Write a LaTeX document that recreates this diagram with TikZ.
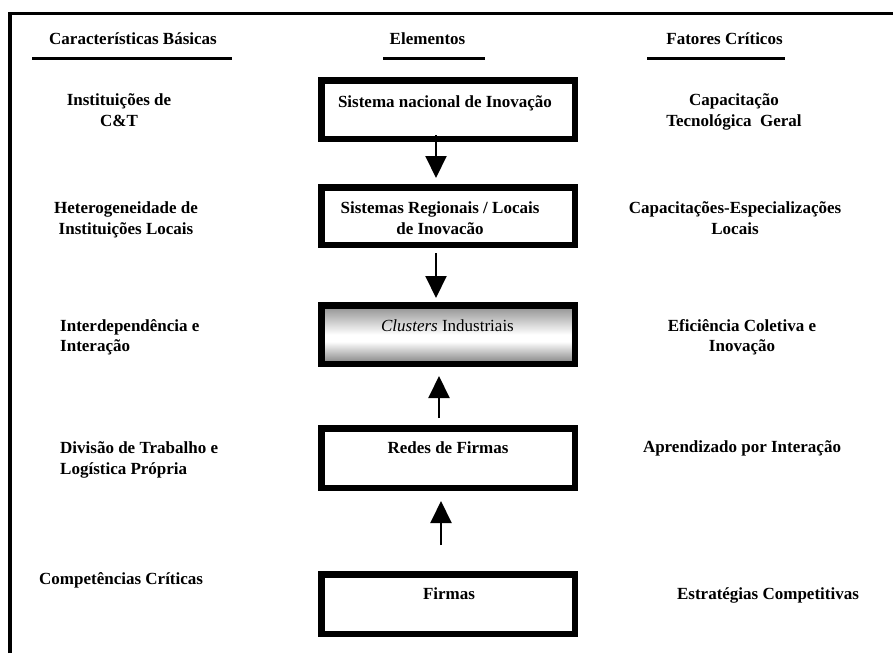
\documentclass[tikz,border=0pt]{standalone}
\usepackage{fontspec}
\setmainfont{Liberation Serif}
\usetikzlibrary{arrows.meta}
\pgfdeclareverticalshading{clustershade}{100bp}{color(0bp)=(black!50); color(25bp)=(black!50); color(44bp)=(white); color(50bp)=(white); color(75bp)=(black!45); color(100bp)=(black!45)}
\begin{document}
\begin{tikzpicture}[x=1pt,y=-1pt,
  txt/.style={font=\bfseries\fontsize{17}{20.5}\selectfont, inner sep=0pt, anchor=base, align=center},
  txtl/.style={txt, anchor=base west, align=left},
  elembox/.style={draw=black, line width=6.5pt, minimum width=253.5pt, inner sep=0pt},
  arr/.style={line width=2pt, -{Triangle[width=21pt,length=22pt]}},
  rulebar/.style={line width=3pt}]
\useasboundingbox (0,0) rectangle (893,653);
% frame
\draw[line width=3.3pt] (10,653) -- (10,13.3) -- (893,13.3);
% headers
\node[txt] (h1) at (133,44) {Características Básicas};
\node[txt] (h2) at (427.5,44) {Elementos};
\node[txt] (h3) at (724.5,44) {Fatores Críticos};
\draw[rulebar] (32,58.7) -- (232,58.7);
\draw[rulebar] (383,58.7) -- (485,58.7);
\draw[rulebar] (647,58.7) -- (785,58.7);
% boxes
\node[elembox, minimum height=58.5pt] (b1) at (448,109.5) {};
\node[elembox, minimum height=57.5pt] (b2) at (448,216) {};
\node[elembox, minimum height=58.5pt, shading=clustershade] (b3) at (448,334.5) {};
\node[elembox, minimum height=59.5pt] (b4) at (448,458) {};
\node[elembox, minimum height=59.5pt] (b5) at (448,604) {};
% box labels
\node[txt] (t1) at (445,107.5) {Sistema nacional de Inovação};
\node[txt] (t2) at (440,234) {Sistemas Regionais / Locais\\de Inovacão};
\node[txt, font=\fontsize{17}{20.5}\selectfont] (t3) at (447.5,331) {\textit{Clusters} Industriais};
\node[txt] (t4) at (448,453.5) {Redes de Firmas};
\node[txt] (t5) at (449,599.5) {Firmas};
% arrows
\coordinate (a1s) at (436,135);
\coordinate (a1e) at (436,178);
\coordinate (a2s) at (436,253);
\coordinate (a2e) at (436,298);
\coordinate (a3s) at (439,418);
\coordinate (a3e) at (439,376);
\coordinate (a4s) at (441,545);
\coordinate (a4e) at (441,501);
\draw[arr] (a1s) -- (a1e);
\draw[arr] (a2s) -- (a2e);
\draw[arr] (a3s) -- (a3e);
\draw[arr] (a4s) -- (a4e);
% left column
\node[txt] (l1) at (119,126) {Instituições de\\C\&T};
\node[txt] (l2) at (126,234) {Heterogeneidade de\\Instituições Locais};
\node[txtl] (l3) at (60,351.5) {Interdependência e\\Interação};
\node[txtl] (l4) at (60,474) {Divisão de Trabalho e\\Logística Própria};
\node[txtl] (l5) at (39,584) {Competências Críticas};
% right column
\node[txt] (r1) at (734,126) {Capacitação\\Tecnológica\ \ Geral};
\node[txt] (r2) at (735,234) {Capacitações-Especializações\\Locais};
\node[txt] (r3) at (742,351.5) {Eficiência Coletiva e\\Inovação};
\node[txt] (r4) at (742,452.5) {Aprendizado por Interação};
\node[txt] (r5) at (768,599) {Estratégias Competitivas};
\end{tikzpicture}
\end{document}
